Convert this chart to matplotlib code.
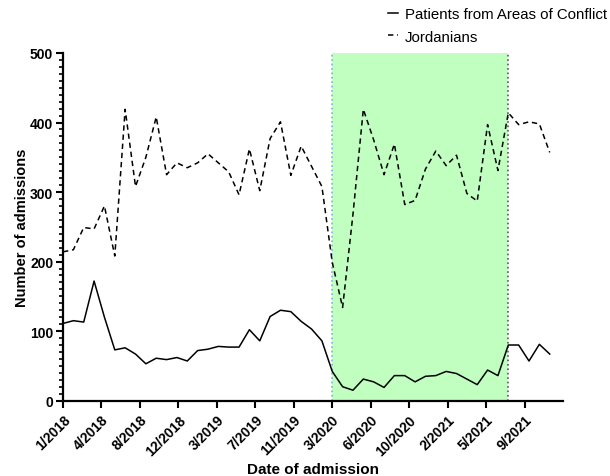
import numpy as np
import matplotlib.pyplot as plt

plt.switch_backend('agg')
plt.rcParams['font.family'] = ['Liberation Sans', 'DejaVu Sans']

# monthly admissions, 1/2018 .. 12/2021
conflict = [111, 115, 113, 172, 120, 73, 76, 67, 53, 61, 59, 62,
            57, 72, 74, 78, 77, 77, 102, 86, 121, 130, 128, 114,
            103, 86, 42, 20, 15, 31, 27, 19, 36, 36, 27, 35,
            36, 42, 39, 31, 23, 44, 36, 80, 80, 57, 81, 67]
jordanians = [214, 217, 249, 247, 280, 208, 419, 308, 350, 408, 325, 342,
              335, 342, 355, 342, 329, 296, 362, 302, 377, 401, 324, 366,
              337, 308, 199, 134, 268, 419, 375, 325, 369, 282, 288, 333,
              359, 338, 353, 298, 287, 397, 331, 414, 397, 401, 398, 357]
tick_labels = ['1/2018', '4/2018', '8/2018', '12/2018', '3/2019', '7/2019',
               '11/2019', '3/2020', '6/2020', '10/2020', '2/2021', '5/2021',
               '9/2021']
shade_start, shade_end = 26, 43   # 3/2020 .. 8/2021

months = np.arange(len(conflict))
step = 26 / 7

fig = plt.figure(figsize=(6.1, 4.77), dpi=100)
ax = fig.add_axes([0.1033, 0.158, 0.8197, 0.7288])

ax.axvspan(shade_start, shade_end, color='#c0ffc0', lw=0, zorder=0)
ax.axvline(shade_start, color='#8ea8e8', ls=':', lw=1.2, zorder=1)
ax.axvline(shade_end, color='#506050', ls=':', lw=1.2, zorder=1)

ax.plot(months, conflict, color='black', lw=1.1, label='Patients from Areas of Conflict')
ax.plot(months, jordanians, color='black', lw=1.1, ls=(0, (3.5, 2.5)), label='Jordanians')

ax.set_xlim(0, step * 13)
ax.set_ylim(0, 500)
ax.set_xticks(np.arange(13) * step)
ax.set_xticklabels(tick_labels, rotation=45, ha='right', rotation_mode='anchor',
                   fontsize=10, fontweight='bold')
ax.set_yticks(range(0, 501, 100))
ax.set_yticks(range(0, 501, 10), minor=True)
ax.tick_params(axis='y', labelsize=10, pad=2)
for t in ax.get_yticklabels():
    t.set_fontweight('bold')
ax.tick_params(which='major', length=5, width=1.5)
ax.tick_params(which='minor', length=3, width=1.2)
ax.tick_params(axis='x', which='minor', length=0)

for s in ['top', 'right']:
    ax.spines[s].set_visible(False)
for s in ['left', 'bottom']:
    ax.spines[s].set_linewidth(1.6)

ax.set_xlabel('Date of admission', fontsize=11, fontweight='bold', labelpad=3)
ax.set_ylabel('Number of admissions', fontsize=10.5, fontweight='bold', labelpad=1)

fig.legend(loc='upper left', bbox_to_anchor=(0.623, 0.998), frameon=False,
           fontsize=10.8, handlelength=0.72, handletextpad=0.45, labelspacing=0.55,
           borderpad=0)

fig.savefig('out.png', dpi=100)
plt.close('all')
